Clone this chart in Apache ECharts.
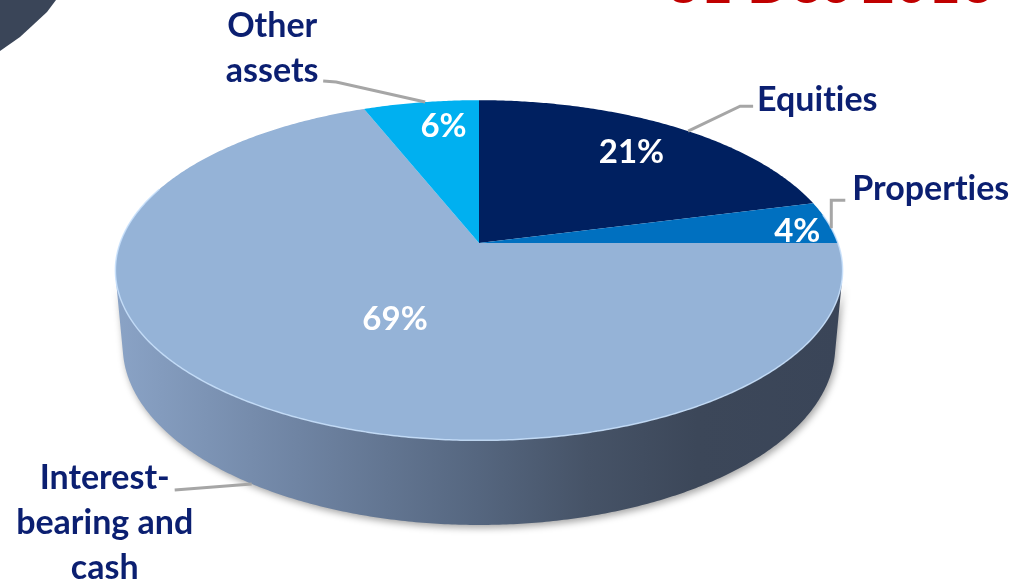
<!DOCTYPE html>
<html><head><meta charset="utf-8">
<script src="https://cdn.jsdelivr.net/npm/echarts@6/dist/echarts.min.js"></script>
<style>html,body{margin:0;padding:0;background:#fff;overflow:hidden}#chart{width:1019px;height:585px}</style>
</head><body><div id="chart"></div>
<script>
// ---- data ----
const categories = ['Equities', 'Properties', 'Interest-\nbearing and\ncash', 'Other\nassets'];
const values = [21, 4, 69, 6];
const percentLabels = ['21%', '4%', '69%', '6%'];
const titleText = '31 Dec 2016';

// ---- styles ----
const sliceColors = ['#002060', '#0070c0', '#95b3d7', '#00b0f0'];
const wallStops = [
  [0, '#8aa3c6'], [0.25, '#6f84a3'], [0.5, '#55667f'], [0.65, '#465367'], [0.8, '#3c4759'], [1, '#3a4558']
];
// label layout: pct label angle shift / radius; name leader anchor & offsets
const labelLayout = [
  { pctShift: 0,    pctR: 0.76, anchorShift: 3,   rim: 'top',    leader: [[52, -25], [65, -25]],   text: [69, -31],  align: 'left' },
  { pctShift: 2.6,  pctR: 0.90, anchorShift: 2,   rim: 'top',    leader: [[0, -28], [14, -28]],    text: [21, -39],  align: 'left' },
  { pctShift: -7.2, pctR: 0.48, anchorShift: 0,   rim: 'bottom', leader: [[-77, 6]],               text: [-147, 39], align: 'center' },
  { pctShift: 2.8,  pctR: 0.80, anchorShift: 0.8, rim: 'top',    leader: [[-89, -20], [-102, -21]], text: [-153, -54], align: 'center' }
];

// ---- 3D projection parameters ----
const CX = 479, CY = 243, F = 1985, DIST = 5.531, TILT = 27.5 * Math.PI / 180, THICK = 0.241;
const SA = Math.sin(TILT), CA = Math.cos(TILT);
function proj(deg, r, y) {
  const t = deg * Math.PI / 180;
  const X = r * Math.sin(t), Z = r * Math.cos(t);
  const v = y * CA + Z * SA;
  const w = DIST + Z * CA - y * SA;
  return [CX + F * X / w, CY - F * v / w];
}
const visDeg = Math.acos(-1 / (DIST * CA)) * 180 / Math.PI;

const total = values.reduce((a, b) => a + b, 0);
const starts = [], ends = [];
let acc = 0;
values.forEach(v => { starts.push(acc / total * 360); acc += v; ends.push(acc / total * 360); });

const FONT = 'Lato, "Open Sans", sans-serif';
// break the Lato "ti" ligature so the names render letter by letter
const noLig = s => s.replace(/t(?=i)/g, 't\u200C');

function renderItem(params, api) {
  const i = params.dataIndex;
  const a0 = starts[i], a1 = ends[i];
  const children = [];
  // side wall (only the part facing the viewer)
  const w0 = Math.max(a0, visDeg), w1 = Math.min(a1, 360 - visDeg);
  if (w1 > w0) {
    const pts = [];
    for (let t = w0; t < w1; t += 0.5) pts.push(proj(t, 1, 0));
    pts.push(proj(w1, 1, 0));
    for (let t = w1; t > w0; t -= 0.5) pts.push(proj(t, 1, -THICK));
    pts.push(proj(w0, 1, -THICK));
    children.push({
      type: 'polygon', z2: 1, shape: { points: pts },
      style: {
        fill: new echarts.graphic.LinearGradient(0, 0, 1, 0, wallStops.map(s => ({ offset: s[0], color: s[1] }))),
        shadowBlur: 7, shadowColor: 'rgba(0,0,0,0.35)', shadowOffsetX: 2, shadowOffsetY: 3
      }
    });
  }
  // top face
  const top = [proj(0, 0, 0)];
  for (let t = a0; t < a1; t += 0.5) top.push(proj(t, 1, 0));
  top.push(proj(a1, 1, 0));
  children.push({ type: 'polygon', z2: 5, shape: { points: top }, style: { fill: sliceColors[i] } });
  // rim highlight on the front part
  const h0 = Math.max(a0, 80), h1 = Math.min(a1, 290);
  if (h1 > h0) {
    const rim = [];
    for (let t = h0; t < h1; t += 0.5) rim.push(proj(t, 1, 0));
    rim.push(proj(h1, 1, 0));
    children.push({ type: 'polyline', z2: 6, shape: { points: rim }, style: { stroke: 'rgba(200,225,252,0.85)', lineWidth: 1.5, fill: null } });
  }
  const L = labelLayout[i];
  const mid = (a0 + a1) / 2;
  // percent label
  const pp = proj(mid + L.pctShift, L.pctR, 0);
  children.push({
    type: 'text', z2: 20,
    style: { text: percentLabels[i], x: pp[0], y: pp[1], fill: '#ffffff', fontSize: 33, fontWeight: 'bold', fontFamily: FONT, align: 'center', verticalAlign: 'middle' }
  });
  // leader line
  const anc = proj(mid + L.anchorShift, 1, L.rim === 'top' ? 0 : -THICK);
  const lp = [anc].concat(L.leader.map(o => [anc[0] + o[0], anc[1] + o[1]]));
  children.push({ type: 'polyline', z2: 15, shape: { points: lp }, style: { stroke: '#a6a6a6', lineWidth: 3, fill: null } });
  // category label
  children.push({
    type: 'text', z2: 20,
    style: { text: noLig(categories[i]), x: anc[0] + L.text[0], y: anc[1] + L.text[1], fill: '#0b1f71', fontSize: 34, fontWeight: 'bold', fontFamily: FONT, align: L.align, verticalAlign: 'middle', lineHeight: 45 }
  });
  return { type: 'group', children };
}

const chart = echarts.init(document.getElementById('chart'), null, { renderer: 'canvas' });
chart.setOption({
  animation: false,
  backgroundColor: '#ffffff',
  graphic: [
    { type: 'polygon', z: 0, shape: { points: [[0, 0], [56, 0], [47, 12], [33, 25], [20, 37], [0, 51]] }, style: { fill: '#3a4558' } },
    { type: 'text', z: 0, style: { text: titleText, x: 667, y: 13, fill: '#c00000', fontSize: 57, fontWeight: 'bold', fontFamily: FONT, align: 'left', verticalAlign: 'bottom' } }
  ],
  series: [{
    type: 'custom',
    coordinateSystem: 'none',
    renderItem: renderItem,
    data: values.map((v, i) => [v, i])
  }]
});
</script>
</body></html>
